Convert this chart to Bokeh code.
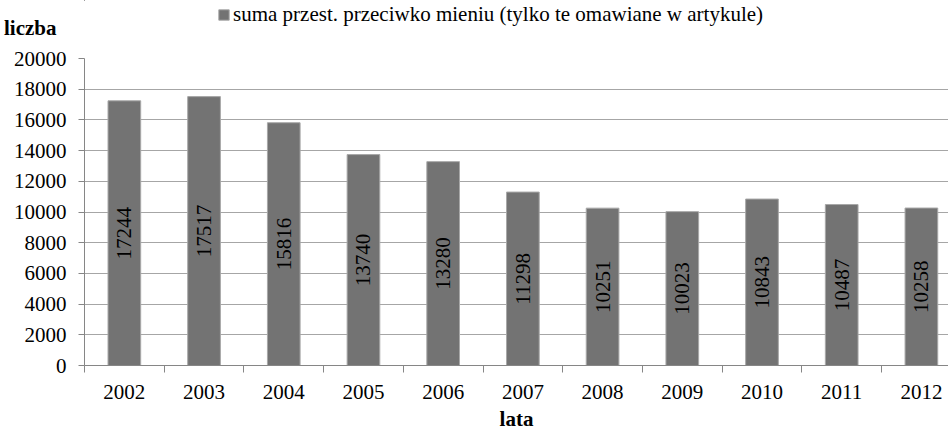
from bokeh.plotting import figure
from bokeh.layouts import column
from bokeh.models import Range1d, FixedTicker, Legend, LegendItem, ColumnDataSource, LinearAxis
from bokeh.embed import file_html
from bokeh.resources import INLINE
from bokeh.core.properties import value
import math

years = ["2002", "2003", "2004", "2005", "2006", "2007", "2008", "2009", "2010", "2011", "2012"]
counts = [17244, 17517, 15816, 13740, 13280, 11298, 10251, 10023, 10843, 10487, 10258]
y_ticks = [0, 2000, 4000, 6000, 8000, 10000, 12000, 14000, 16000, 18000, 20000]
series_name = "suma przest. przeciwko mieniu (tylko te omawiane w artykule)"
y_title = "liczba"
x_title = "lata"

FONT = "Liberation Serif"
BAR_FILL = "#737373"
BAR_LINE = "#a8a8a8"

xs = [i + 0.5 for i in range(len(years))]
src = ColumnDataSource(dict(x=xs, top=counts, mid=[c / 2 for c in counts],
                            lab=[str(c) for c in counts]))

# ---- top strip: legend + y-axis title ----
STRIP_TOP = -50
top = figure(width=948, height=46, output_backend="svg", toolbar_location=None,
             x_range=Range1d(0, 10.84), y_range=Range1d(STRIP_TOP - 46, STRIP_TOP),
             x_axis_type=None, y_axis_type=None,
             min_border_left=84, min_border_right=0, min_border_top=0, min_border_bottom=0)
top.outline_line_color = None
top.xgrid.visible = False
top.ygrid.visible = False
# legend swatch renderer: the same bars, mapped onto a range that keeps them out of this strip
top.extra_x_ranges = {"swatch": Range1d(100, 110.84)}
swatch = top.vbar(x="x", top="top", width=0.41, source=src, fill_color=BAR_FILL,
                  line_color=BAR_LINE, x_range_name="swatch")
title_pos = STRIP_TOP - 27
title_axis = LinearAxis(ticker=FixedTicker(ticks=[title_pos]), major_label_overrides={title_pos: y_title},
                        axis_line_color=None, major_tick_line_color=None, minor_tick_line_color=None,
                        major_label_standoff=22, major_label_text_font=FONT,
                        major_label_text_font_style="bold", major_label_text_font_size="21px",
                        major_label_text_color="black")
top.add_layout(title_axis, "left")
legend = Legend(items=[LegendItem(label=series_name, renderers=[swatch])],
                location=(133, 19), orientation="horizontal",
                padding=0, margin=0, spacing=0, glyph_width=13, glyph_height=13,
                label_standoff=3, border_line_color=None, background_fill_alpha=0,
                label_text_font=FONT, label_text_font_size="21px", label_text_color="black")
top.add_layout(legend, "center")

# ---- main chart ----
p = figure(width=948, height=387, output_backend="svg", toolbar_location=None,
           x_range=Range1d(0, 10.84), y_range=Range1d(0, 20000),
           min_border_left=84, min_border_right=0, min_border_top=12, min_border_bottom=68)
p.outline_line_color = None

p.vbar(x="x", top="top", width=0.41, source=src,
       fill_color=BAR_FILL, line_color=BAR_LINE, line_width=1)

p.text(x="x", y="mid", text="lab", source=src, angle=math.pi / 2,
       text_align="center", text_baseline="middle", text_color="black",
       text_font=value(FONT), text_font_size="21px")

p.xaxis.ticker = FixedTicker(ticks=xs, minor_ticks=list(range(len(years) + 1)))
p.xaxis.major_label_overrides = {x: y for x, y in zip(xs, years)}
p.xaxis.major_tick_line_color = None
p.xaxis.minor_tick_line_color = "#868686"
p.xaxis.minor_tick_out = 7
p.xaxis.minor_tick_in = 0
p.xaxis.axis_line_color = "#868686"
p.xaxis.major_label_text_font = FONT
p.xaxis.major_label_text_font_size = "21px"
p.xaxis.major_label_text_color = "black"
p.xaxis.major_label_standoff = 12
p.xaxis.axis_label = x_title
p.xaxis.axis_label_text_font = FONT
p.xaxis.axis_label_text_font_style = "bold"
p.xaxis.axis_label_text_font_size = "21px"
p.xaxis.axis_label_text_color = "black"
p.xaxis.axis_label_standoff = 5

p.yaxis.ticker = FixedTicker(ticks=y_ticks)
p.yaxis.minor_tick_line_color = None
p.yaxis.major_tick_line_color = "#868686"
p.yaxis.major_tick_out = 6
p.yaxis.major_tick_in = 0
p.yaxis.axis_line_color = "#868686"
p.yaxis.major_label_text_font = FONT
p.yaxis.major_label_text_font_size = "21px"
p.yaxis.major_label_text_color = "black"
p.yaxis.major_label_standoff = 12

p.xgrid.grid_line_color = None
p.ygrid.grid_line_color = "#a6a6a6"
p.ygrid.ticker = FixedTicker(ticks=y_ticks)

open("out.html", "w").write(file_html(column(top, p, spacing=0), INLINE))
